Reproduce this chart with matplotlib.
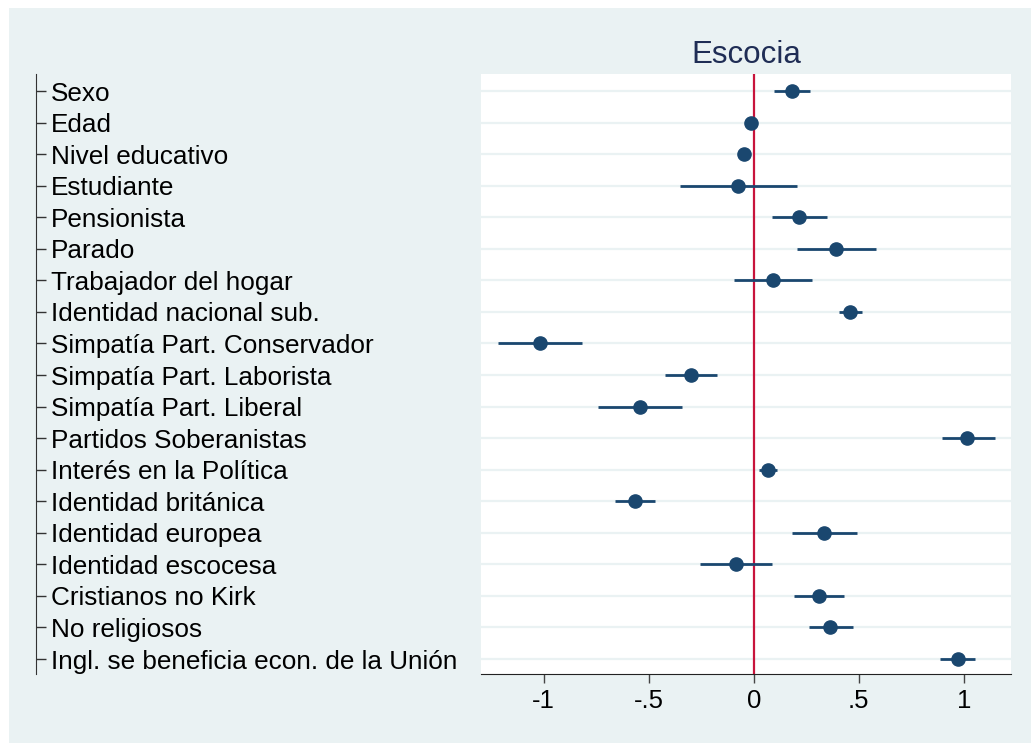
import matplotlib
matplotlib.use('Agg')
import matplotlib.pyplot as plt
from matplotlib.patches import Rectangle
import numpy as np

plt.rcParams['font.family'] = ['Liberation Sans', 'DejaVu Sans']

labels = ["Sexo", "Edad", "Nivel educativo", "Estudiante", "Pensionista", "Parado",
          "Trabajador del hogar", "Identidad nacional sub.", "Simpatía Part. Conservador",
          "Simpatía Part. Laborista", "Simpatía Part. Liberal", "Partidos Soberanistas",
          "Interés en la Política", "Identidad británica", "Identidad europea",
          "Identidad escocesa", "Cristianos no Kirk", "No religiosos",
          "Ingl. se beneficia econ. de la Unión"]
coef = [0.181, -0.015, -0.047, -0.074, 0.216, 0.392, 0.092, 0.459, -1.017,
        -0.298, -0.541, 1.017, 0.069, -0.564, 0.335, -0.082, 0.312, 0.365, 0.970]
ci_lo = [0.095, -0.025, -0.062, -0.352, 0.087, 0.206, -0.094, 0.404, -1.216,
         -0.424, -0.739, 0.894, 0.025, -0.660, 0.183, -0.256, 0.191, 0.261, 0.886]
ci_hi = [0.270, -0.005, -0.032, 0.204, 0.347, 0.583, 0.276, 0.516, -0.819,
         -0.176, -0.343, 1.146, 0.109, -0.469, 0.492, 0.089, 0.430, 0.471, 1.055]
xticks = [-1, -0.5, 0, 0.5, 1]
xticklabels = ["-1", "-.5", "0", ".5", "1"]

bg = '#EAF2F3'
navy = '#1A476F'

W, H = 1031, 743
fig = plt.figure(figsize=(W / 100, H / 100), dpi=100)
fig.patch.set_facecolor('white')
fig.patches.append(Rectangle((9 / W, 0), 1 - 9 / W, 1 - 8 / H, transform=fig.transFigure,
                             facecolor=bg, edgecolor='none', zorder=-10))

ax = fig.add_axes([481 / W, 1 - 674 / H, (1010.7 - 481) / W, (674 - 74) / H])
ax.set_facecolor('white')

y = np.arange(1, len(labels) + 1)
coef = np.array(coef)
err = [coef - np.array(ci_lo), np.array(ci_hi) - coef]

ax.axvline(0, color='#C8143C', lw=1.6, zorder=2)
ax.errorbar(coef, y, xerr=err, fmt='o', color=navy, ms=9.5, elinewidth=2.0,
            capsize=0, zorder=3)

ax.set_xlim(-1.298, 1.223)
ax.set_ylim(19.475, 0.46)

for s in ['top', 'right']:
    ax.spines[s].set_visible(False)
ax.spines['left'].set_position(('outward', (481 - 36) * 0.72))
ax.spines['left'].set_color('#333333')
ax.spines['bottom'].set_color('#222222')
ax.tick_params(axis='y', direction='in', length=7, width=1.0, color='#333333',
               pad=-11, labelsize=18.8)
ax.tick_params(axis='x', direction='out', length=6.5, width=1.0, color='#444444',
               pad=4.3, labelsize=18.5)

ax.set_yticks(y)
ax.set_yticklabels(labels)
for lbl in ax.get_yticklabels():
    lbl.set_horizontalalignment('left')
ax.set_xticks(xticks)
ax.set_xticklabels(xticklabels)

ax.grid(axis='y', color=bg, lw=1.6, zorder=0)
ax.set_axisbelow(True)

ax.set_title('Escocia', fontsize=22.5, color='#1F2D55', pad=8)

fig.savefig('out.png', dpi=100, facecolor=fig.get_facecolor())
